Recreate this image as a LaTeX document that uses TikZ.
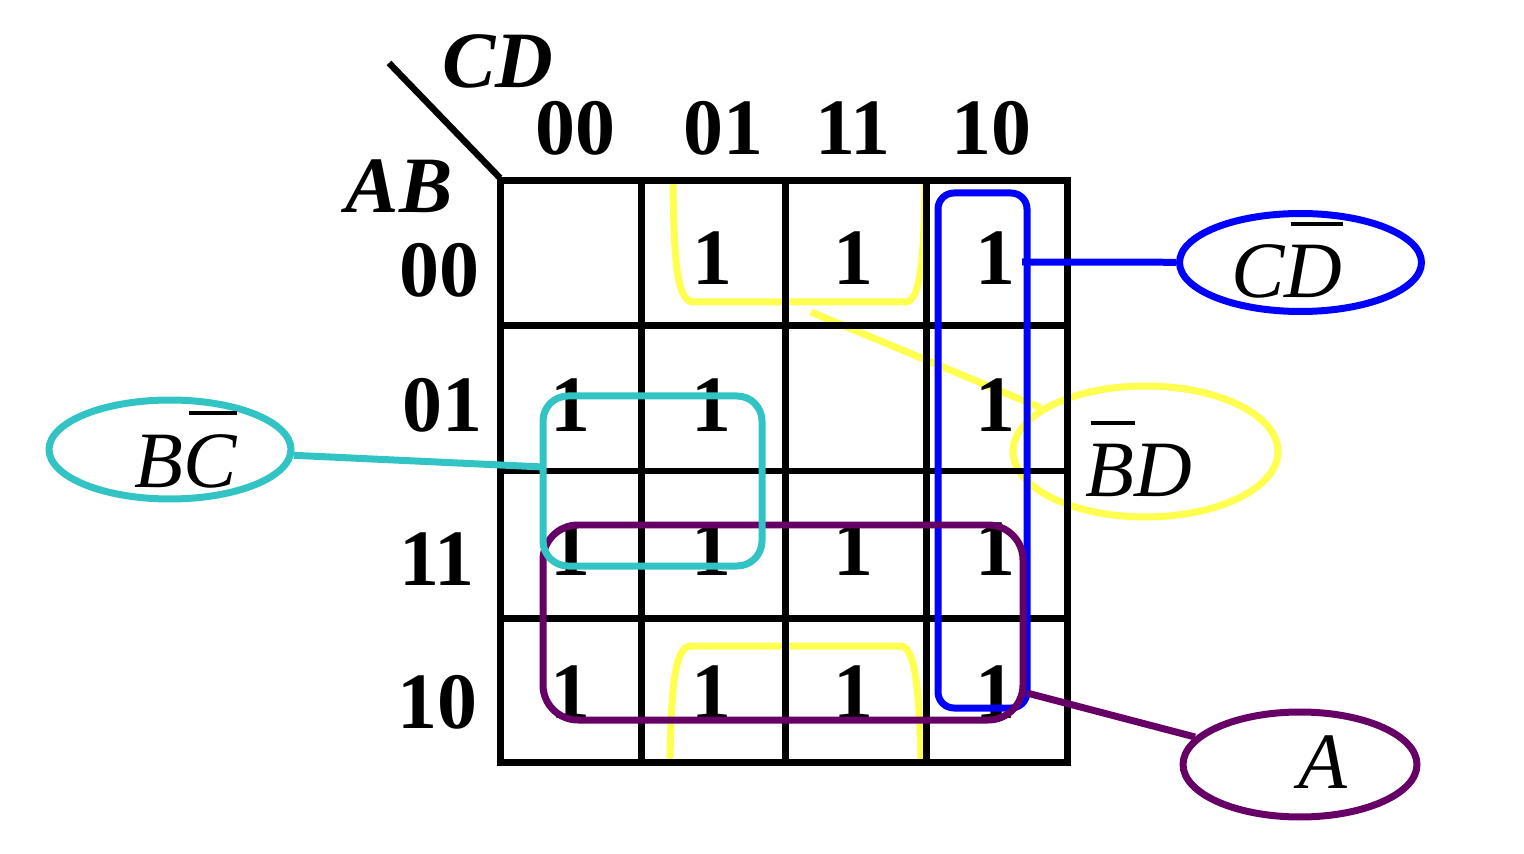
\documentclass[tikz,border=0pt]{standalone}
\usepackage{fontspec}
\setmainfont{Liberation Serif}
\usetikzlibrary{shapes.geometric}
\definecolor{kcyan}{RGB}{50,196,196}
\definecolor{kyellow}{RGB}{255,255,80}
\definecolor{kblue}{RGB}{0,0,255}
\definecolor{kpurple}{RGB}{102,0,102}
% letter with a bar drawn over it
\newcommand{\barred}[1]{\setbox0\hbox{#1}\rlap{\hbox to \wd0{\hskip0.1\wd0\rule[0.9em]{0.9\wd0}{0.045em}\hss}}\box0}
\begin{document}
\begin{tikzpicture}[x=0.02cm,y=-0.02cm,
  digit/.style={font=\fontsize{45.5}{50}\selectfont\bfseries,inner sep=0,anchor=base},
  varlab/.style={font=\fontsize{45.5}{50}\selectfont\bfseries\itshape,inner sep=0,anchor=base},
  termlab/.style={font=\fontsize{45.5}{50}\selectfont\itshape,inner sep=0,anchor=base},
  gridline/.style={line width=0.14cm,black},
  loop/.style={line width=0.14cm},
  term/.style={ellipse,line width=0.14cm,inner sep=0},
]
\useasboundingbox (0,0) rectangle (1524,854);

% yellow group (B'D): top and bottom rows, columns 01 and 11
\draw[loop,kyellow] (673,184) .. controls (674,270) and (678,302) .. (694,302) -- (905,302)
  .. controls (919,302) and (924,270) .. (925,184);
\draw[loop,kyellow] (670,762) .. controls (671,680) and (676,646) .. (691,646) -- (900,646)
  .. controls (914,646) and (919,680) .. (921,762);
\node[term,draw=kyellow,minimum width=5.3cm,minimum height=2.62cm] (bdEll) at (1145.5,451.5) {};
\coordinate (yStart) at (811,312);
\draw[loop,kyellow] (yStart) -- (bdEll);
\node[termlab] (bdLab) at (1139,497) {\barred{B}D};

% map grid
\draw[gridline] (500,181) rectangle (1067,762);
\foreach \x in {641,785,926} \draw[gridline] (\x,181) -- (\x,762);
\foreach \y in {326,471,618} \draw[gridline] (500,\y) -- (1067,\y);
\draw[line width=0.13cm] (389,63) -- (500,178);

% variable names and headers
\node[varlab] (cdName) at (498,88) {CD};
\node[varlab] (abName) at (399,213) {AB};
\node[digit] (h0) at (575,155) {00};
\node[digit] (h1) at (723,155) {01};
\node[digit] (h2) at (853,155) {11};
\node[digit] (h3) at (991,155) {10};
\node[digit] (r0) at (439,297) {00};
\node[digit] (r1) at (442,432) {01};
\node[digit] (r2) at (437,585) {11};
\node[digit] (r3) at (437,728) {10};

% cell contents
\foreach \x/\y [count=\i] in {712/285,853/285,995/285,
    570/432,711/432,995/432,
    570/575,711/575,853/575,995/575,
    570/718,711/718,853/718,995/718}
  \node[digit] (one\i) at (\x,\y) {1};

% blue group (CD')
\draw[loop,kblue,rounded corners=0.32cm] (938,193) rectangle (1027,708);
\coordinate (bStart) at (1022,262);
\node[term,draw=kblue,minimum width=4.84cm,minimum height=1.96cm] (cdEll) at (1300.5,262.5) {};
\draw[loop,kblue] (bStart) -- (cdEll);
\node[termlab] (cdLab) at (1287,298) {C\barred{D}};

% purple group (A)
\draw[loop,kpurple,rounded corners=0.7cm] (543,525) rectangle (1023,720);
\coordinate (pStart) at (1027,693);
\node[term,draw=kpurple,minimum width=4.68cm,minimum height=2.1cm] (aEll) at (1300,764.5) {};
\draw[loop,kpurple] (pStart) -- (aEll);
\node[termlab] (aLab) at (1323,788) {A};

% cyan group (BC')
\draw[loop,kcyan,rounded corners=0.5cm] (543,396) rectangle (762,566);
\coordinate (cEnd) at (543,467);
\node[term,draw=kcyan,minimum width=4.84cm,minimum height=1.98cm] (bcEll) at (170,449.5) {};
\draw[loop,kcyan] (bcEll) -- (cEnd);
\node[termlab] (bcLab) at (186,487) {B\barred{C}};
\end{tikzpicture}
\end{document}
